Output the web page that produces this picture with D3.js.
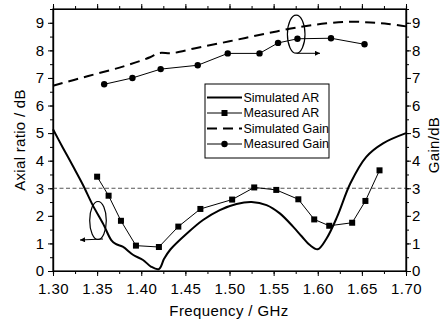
<!DOCTYPE html>
<html><head><meta charset="utf-8">
<script src="https://cdn.jsdelivr.net/npm/d3@7"></script>
<style>body{margin:0;background:#fff}svg{display:block;font-family:"Liberation Sans",Arial,sans-serif}</style>
</head><body><svg id="c" width="442" height="322"></svg>
<script>
// ---- data ----
const simARFreq = [1.300,1.311,1.323,1.334,1.345,1.357,1.366,1.371,1.379,1.391,1.402,1.411,1.420,1.426,1.433,1.452,1.470,1.489,1.508,1.525,1.542,1.557,1.572,1.582,1.591,1.600,1.610,1.622,1.637,1.655,1.674,1.700];
const simAR     = [5.14,4.48,3.78,3.12,2.39,1.70,1.12,0.98,0.88,0.58,0.40,0.16,0.07,0.45,0.78,1.37,1.85,2.21,2.43,2.50,2.39,2.09,1.61,1.25,0.94,0.79,1.18,1.97,3.18,4.14,4.63,5.00];
const measARFreq = [1.350,1.363,1.377,1.394,1.420,1.442,1.467,1.503,1.528,1.553,1.578,1.596,1.613,1.639,1.654,1.670];
const measAR     = [3.42,2.73,1.82,0.92,0.87,1.61,2.25,2.59,3.03,2.94,2.60,1.87,1.64,1.75,2.54,3.65];
const simGainFreq = [1.300,1.340,1.380,1.410,1.420,1.435,1.460,1.500,1.540,1.580,1.610,1.635,1.660,1.680,1.700];
const simGain     = [6.72,7.07,7.42,7.75,7.90,7.90,8.07,8.33,8.60,8.85,8.98,9.04,9.01,8.96,8.87];
const measGainFreq = [1.358,1.390,1.422,1.464,1.498,1.534,1.555,1.577,1.615,1.653];
const measGain     = [6.77,7.00,7.32,7.46,7.89,7.89,8.27,8.42,8.44,8.22];
const xTicks = [1.30,1.35,1.40,1.45,1.50,1.55,1.60,1.65,1.70];
const yTicks = [0,1,2,3,4,5,6,7,8,9];
const refAR = 3;
const legendLabels = ["Simulated AR","Measured AR","Simulated Gain","Measured Gain"];

// ---- layout ----
const L=53,R=406,T=9,B=271;
const svg=d3.select("#c");
const x=d3.scaleLinear().domain([1.30,1.70]).range([L,R]);
const y=d3.scaleLinear().domain([0,9.5]).range([B,T]);
const yR=d3.scaleLinear().domain([0,9.5]).range([B,T]);

const xMinor=d3.range(1.30,1.7001,0.025);
const yMinor=d3.range(0,9.51,0.5);

function styleAxis(g){g.selectAll("path").attr("stroke","#000").attr("stroke-width",1.2);g.selectAll("line").attr("stroke","#000").attr("stroke-width",1);g.selectAll("text").attr("font-size",15).attr("fill","#000").attr("font-family","Liberation Sans, Arial, sans-serif");}

// minor ticks
svg.append("g").attr("transform",`translate(0,${B})`).call(d3.axisBottom(x).tickValues(xMinor).tickSize(3).tickFormat("")).call(styleAxis);
svg.append("g").attr("transform",`translate(0,${T})`).call(d3.axisTop(x).tickValues(xMinor).tickSize(3).tickFormat("")).call(styleAxis);
svg.append("g").attr("transform",`translate(${L},0)`).call(d3.axisLeft(y).tickValues(yMinor).tickSize(3).tickFormat("")).call(styleAxis);
svg.append("g").attr("transform",`translate(${R},0)`).call(d3.axisRight(yR).tickValues(yMinor).tickSize(3).tickFormat("")).call(styleAxis);
// major
svg.append("g").attr("transform",`translate(0,${B})`).call(d3.axisBottom(x).tickValues(xTicks).tickSize(5).tickSizeOuter(0).tickPadding(7).tickFormat(d3.format(".2f"))).call(styleAxis).selectAll("text").attr("letter-spacing",0.4);
svg.append("g").attr("transform",`translate(0,${T})`).call(d3.axisTop(x).tickValues(xTicks).tickSize(5).tickSizeOuter(0).tickFormat("")).call(styleAxis);
svg.append("g").attr("transform",`translate(${L},0)`).call(d3.axisLeft(y).tickValues(yTicks).tickSize(5).tickSizeOuter(0).tickPadding(4).tickFormat(d3.format("d"))).call(styleAxis);
svg.append("g").attr("transform",`translate(${R},0)`).call(d3.axisRight(yR).tickValues(yTicks).tickSize(5).tickSizeOuter(0).tickPadding(1).tickFormat(d3.format("d"))).call(styleAxis);

// titles
svg.append("text").attr("x",229).attr("y",316).attr("text-anchor","middle").attr("font-size",15).attr("letter-spacing",0.4).text("Frequency / GHz");
svg.append("text").attr("transform","translate(25,140) rotate(-90)").attr("text-anchor","middle").attr("font-size",15).attr("letter-spacing",0.3).text("Axial ratio / dB");
svg.append("text").attr("transform","translate(438.5,145) rotate(-90)").attr("text-anchor","middle").attr("font-size",15).attr("letter-spacing",0.3).text("Gain/dB");

// reference line
svg.append("line").attr("x1",x(1.30)).attr("x2",x(1.70)).attr("y1",y(refAR)).attr("y2",y(refAR))
  .attr("stroke","#555").attr("stroke-width",1).attr("stroke-dasharray","4,2.5");

const line=(xs,ys,sc)=>d3.line().x((d,i)=>x(xs[i])).y(d=>sc(d))(ys);
const lineSmooth=(xs,ys,sc)=>d3.line().curve(d3.curveCatmullRom.alpha(0.5)).x((d,i)=>x(xs[i])).y(d=>sc(d))(ys);

svg.append("path").attr("d",lineSmooth(simARFreq,simAR,y)).attr("fill","none").attr("stroke","#000").attr("stroke-width",2);
svg.append("path").attr("d",line(measARFreq,measAR,y)).attr("fill","none").attr("stroke","#000").attr("stroke-width",1);
svg.selectAll(".sq").data(measAR).enter().append("rect").attr("x",(d,i)=>x(measARFreq[i])-3).attr("y",d=>y(d)-3).attr("width",6).attr("height",6).attr("fill","#000");
svg.append("path").attr("d",lineSmooth(simGainFreq,simGain,yR)).attr("fill","none").attr("stroke","#000").attr("stroke-width",2).attr("stroke-dasharray","10,6");
svg.append("path").attr("d",line(measGainFreq,measGain,yR)).attr("fill","none").attr("stroke","#000").attr("stroke-width",1);
svg.selectAll(".ci").data(measGain).enter().append("circle").attr("cx",(d,i)=>x(measGainFreq[i])).attr("cy",d=>yR(d)).attr("r",3.2).attr("fill","#000");

// annotations (ellipses + arrows)
const defs=svg.append("defs");
defs.append("marker").attr("id","ah").attr("viewBox","0 0 10 10").attr("refX",10).attr("refY",5).attr("markerWidth",7).attr("markerHeight",5).attr("orient","auto").attr("markerUnits","userSpaceOnUse")
  .append("path").attr("d","M0,0L10,5L0,10Z").attr("fill","#000");
svg.append("ellipse").attr("cx",98).attr("cy",220.5).attr("rx",8.3).attr("ry",19).attr("fill","none").attr("stroke","#000").attr("stroke-width",1.2);
svg.append("line").attr("x1",103).attr("y1",239).attr("x2",80).attr("y2",240).attr("stroke","#000").attr("stroke-width",1).attr("marker-end","url(#ah)");
svg.append("ellipse").attr("cx",296.2).attr("cy",34.2).attr("rx",8.8).attr("ry",19).attr("fill","none").attr("stroke","#000").attr("stroke-width",1.2);
svg.append("line").attr("x1",296.7).attr("y1",53.3).attr("x2",320).attr("y2",53.3).attr("stroke","#000").attr("stroke-width",1).attr("marker-end","url(#ah)");

// frame
svg.append("rect").attr("x",L).attr("y",T).attr("width",R-L).attr("height",B-T).attr("fill","none").attr("stroke","#000").attr("stroke-width",1.2);

// legend
const lg=svg.append("g");
lg.append("rect").attr("x",205).attr("y",84).attr("width",124).attr("height",74).attr("fill","#fff").attr("stroke","#000").attr("stroke-width",1);
legendLabels.forEach((lab,i)=>{
  const cy=97.5+i*15.5;
  const ln=lg.append("line").attr("x1",207).attr("x2",242).attr("y1",cy).attr("y2",cy).attr("stroke","#000");
  if(i===0) ln.attr("stroke-width",2);
  if(i===1){ln.attr("stroke-width",1);lg.append("rect").attr("x",221.5).attr("y",cy-3).attr("width",6).attr("height",6).attr("fill","#000");}
  if(i===2) ln.attr("stroke-width",2).attr("stroke-dasharray","10,6");
  if(i===3){ln.attr("stroke-width",1);lg.append("circle").attr("cx",224.5).attr("cy",cy).attr("r",3.2).attr("fill","#000");}
  lg.append("text").attr("x",243.5).attr("y",cy).attr("dy","0.35em").attr("font-size",12.5).text(lab);
});
</script></body></html>
